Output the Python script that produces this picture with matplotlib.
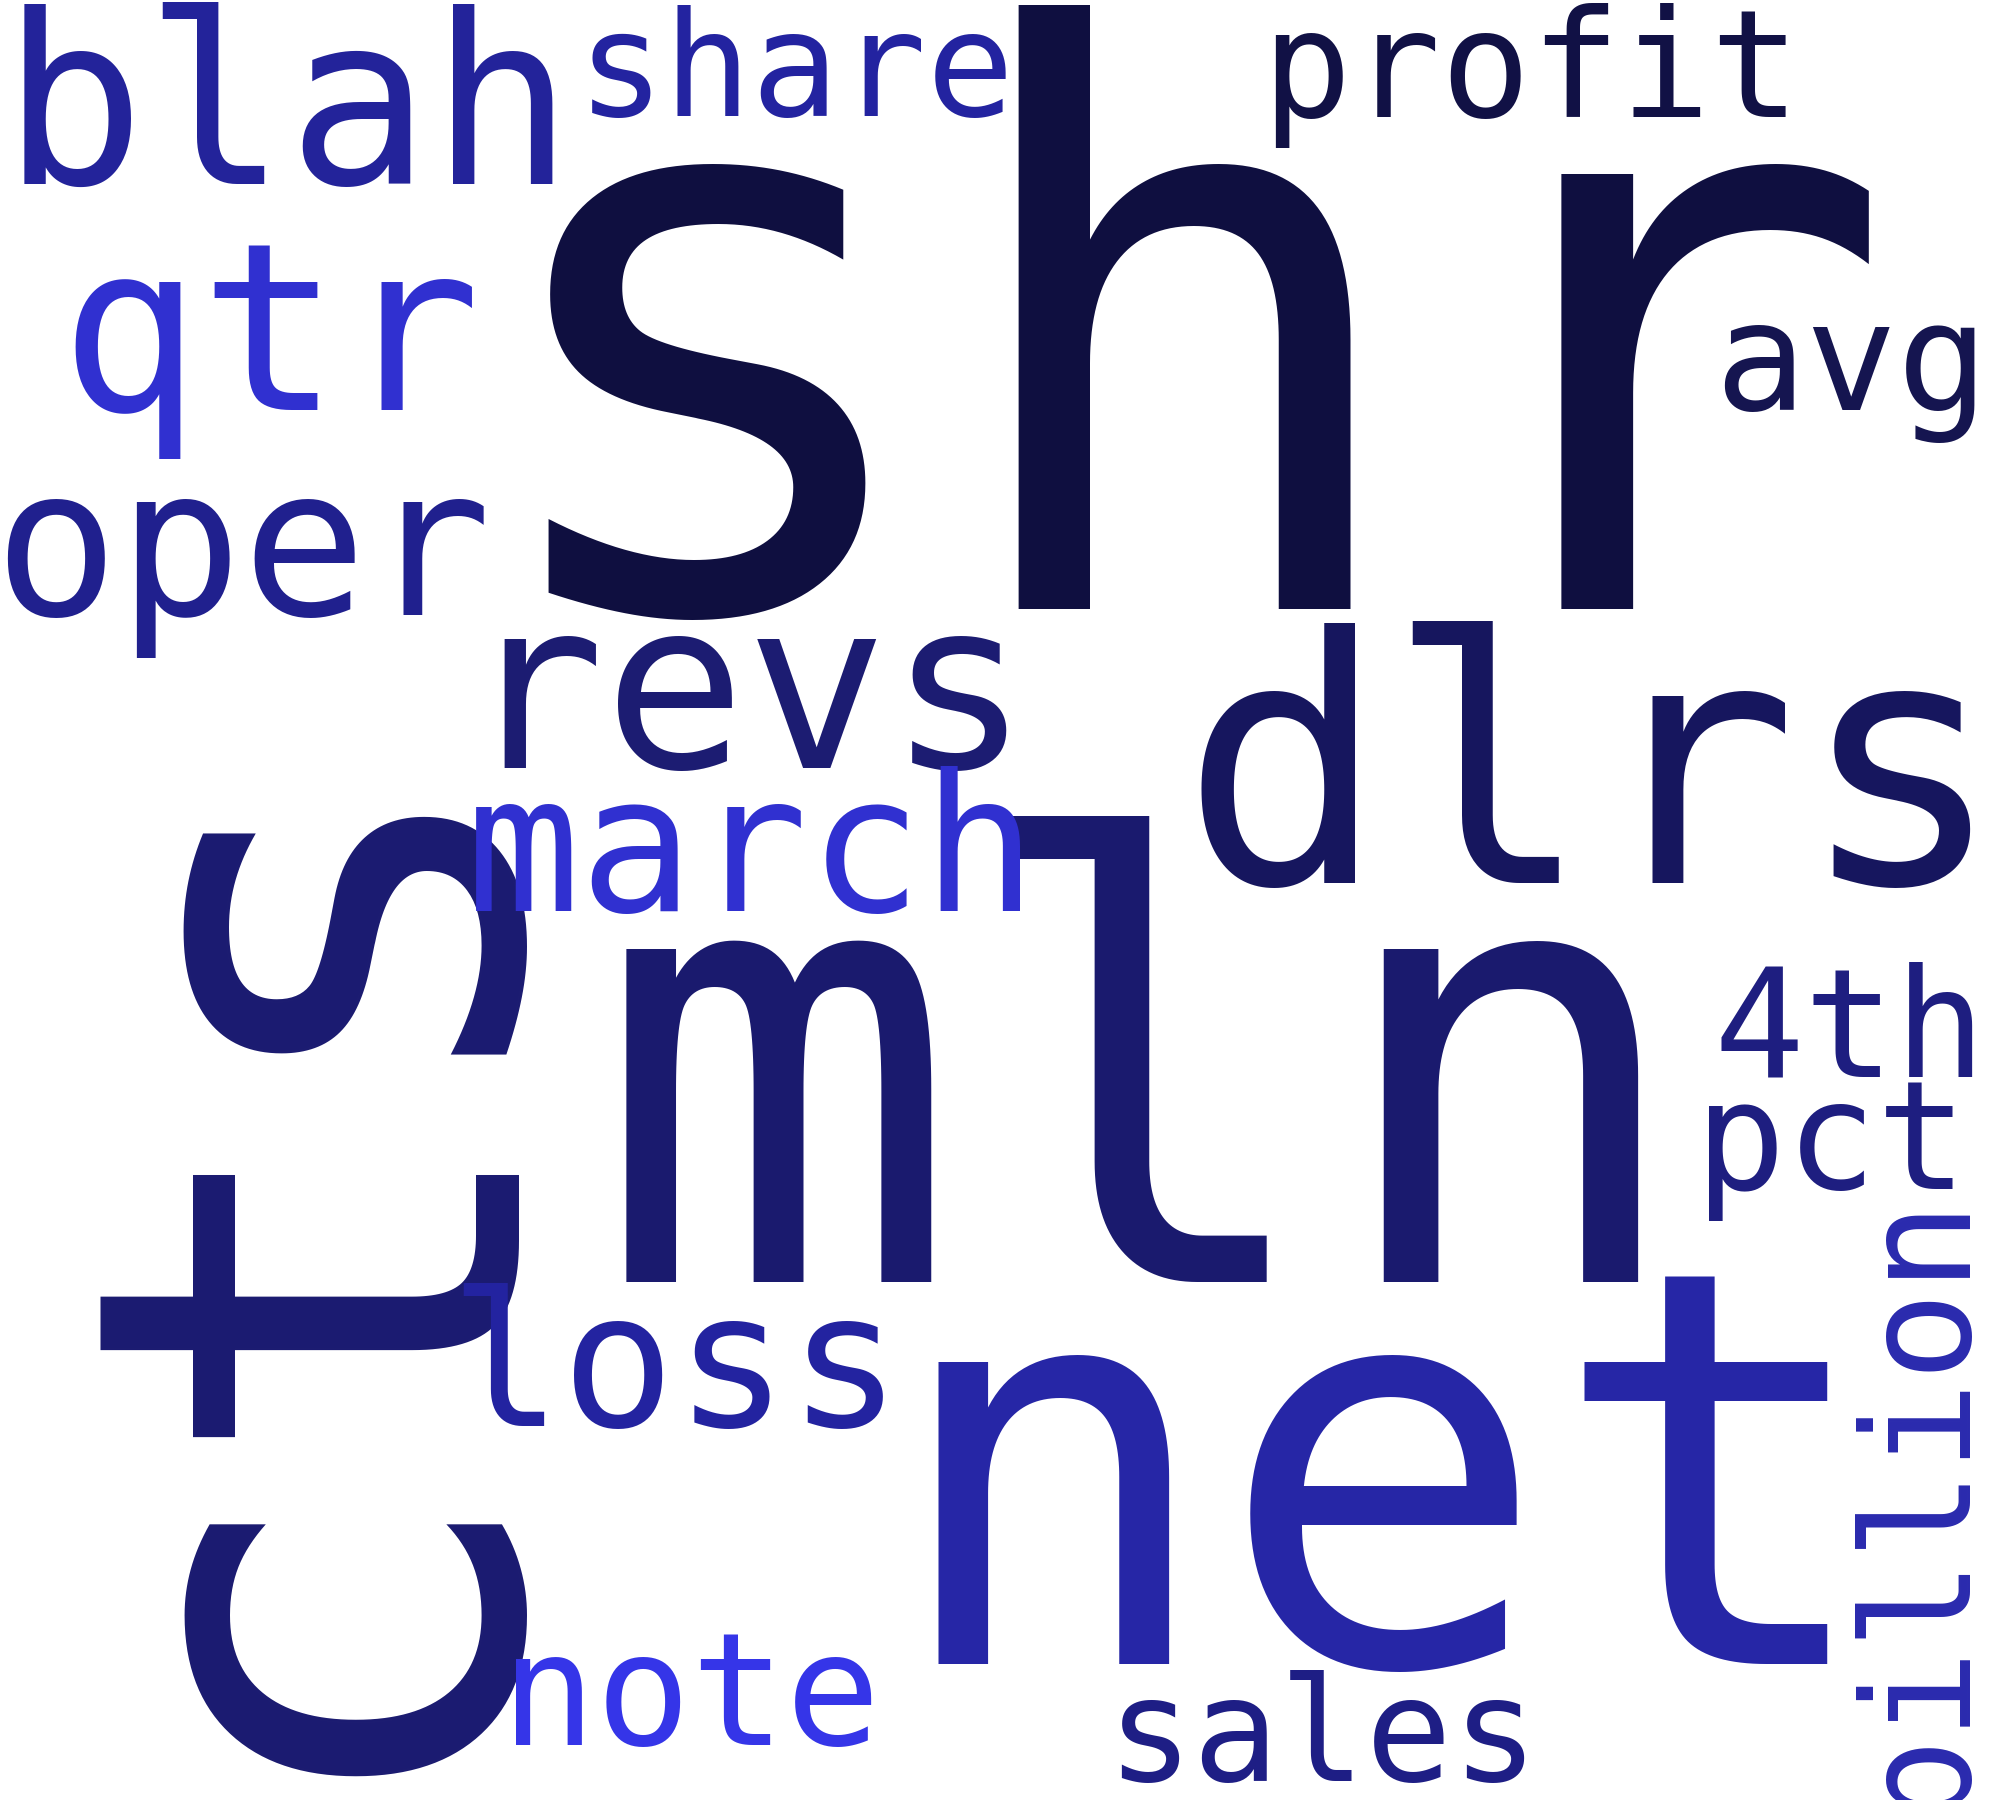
import matplotlib
matplotlib.use("Agg")
import matplotlib.pyplot as plt
from matplotlib.textpath import TextPath
from matplotlib.font_manager import FontProperties

words = ["shr","mln","net","cts","blah","share","profit","qtr","avg","oper","revs",
         "dlrs","march","4th","pct","billion","loss","note","sales"]
colors = ["#0f0f40","#1a1a6e","#2626a6","#1a1a70","#23239a","#2323a0","#111145","#3030d0",
          "#151550","#20208e","#1c1c72","#16165e","#3030d0","#1e1e80","#1e1e80","#2a2aae",
          "#2323a0","#3535e8","#1e1e85"]
rot = [0,0,0,90,0,0,0,0,0,0,0,0,0,0,0,90,0,0,0]
# ink boxes in reference pixels (1560 wide scale): x0,y0,x1,y1
boxes = [(430,3,1455,485),(485,638,1282,998),(722,1000,1435,1300),(38,585,365,1348),
         (15,3,435,145),(460,5,787,92),(995,3,1392,116),(62,190,365,360),(1345,253,1540,345),
         (10,388,373,515),(388,497,790,600),(935,485,1538,692),(370,598,797,712),
         (1343,750,1538,840),(1333,845,1523,952),(1438,935,1528,1405),(362,1000,688,1115),
         (373,1277,708,1360),(870,1305,1193,1390)]
S = 2000/1560
W, H = 2000, 1800
FAM = "DejaVu Sans Mono"
fp = FontProperties(family=FAM)
fig = plt.figure(figsize=(20, 18), dpi=100)
fig.patch.set_facecolor("white")
for w, c, ro, (x0, y0, x1, y1) in zip(words, colors, rot, boxes):
    x0, x1, y0, y1 = x0*S, x1*S, H - y1*S, H - y0*S
    tw, th = x1 - x0, y1 - y0
    cx, cy = (x0 + x1)/2, (y0 + y1)/2
    ext = TextPath((0, 0), w, size=100, prop=fp).get_extents()
    bx0, by0, bx1, by1 = ext.x0, ext.y0, ext.x1, ext.y1
    if ro == 0:
        kw, kh = tw/(bx1-bx0), th/(by1-by0)
    else:
        kw, kh = th/(bx1-bx0), tw/(by1-by0)
    k = min((kw*kh)**0.5, 1.06*min(kw, kh))
    F = 100*k*0.72
    if ro == 0:
        ax_, ay_ = cx - k*(bx0+bx1)/2, cy - k*(by0+by1)/2
    else:
        ax_, ay_ = cx + k*(by0+by1)/2, cy - k*(bx0+bx1)/2
    fig.text(ax_, ay_, w, fontsize=F, rotation=ro, rotation_mode="anchor",
             ha="left", va="baseline", color=c, family=FAM, transform=None)
fig.savefig("out.png", dpi=100, facecolor="white")
